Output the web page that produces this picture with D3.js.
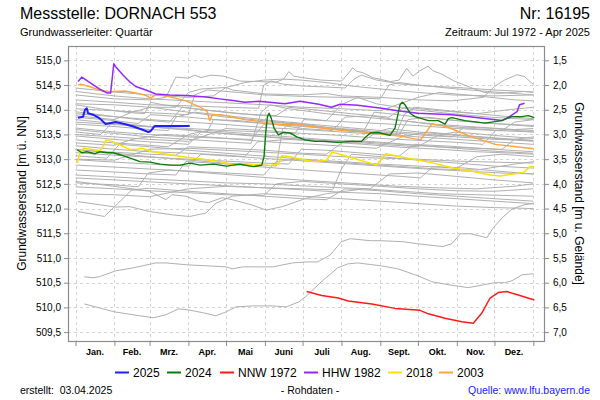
<!DOCTYPE html>
<html><head><meta charset="utf-8">
<script src="https://cdn.jsdelivr.net/npm/d3@7"></script>
<style>
body{margin:0;background:#fff;}
svg{display:block;font-family:"Liberation Sans",Arial,sans-serif;}
</style></head>
<body><svg id="c" width="600" height="400"></svg>
<script>
// ---------- data ----------
const monthLabels = ["Jan.","Feb.","Mrz.","Apr.","Mai","Juni","Juli","Aug.","Sept.","Okt.","Nov.","Dez."];
const monthStarts = [0,31,59,90,120,151,181,212,243,273,304,334,365];
const leftTicks = [509.5,510.0,510.5,511.0,511.5,512.0,512.5,513.0,513.5,514.0,514.5,515.0];
const rightTicks = [1.5,2.0,2.5,3.0,3.5,4.0,4.5,5.0,5.5,6.0,6.5,7.0];
const groundLevel = 516.5;

const s2025 = [[2,513.84],[6,513.86],[7.5,514.00],[9,514.03],[10,513.93],[14,513.90],[19,513.83],[24,513.71],[28,513.73],[32,513.75],[39,513.71],[46,513.66],[54,513.59],[58,513.55],[60,513.57],[63,513.67],[70,513.67],[80,513.67],[91,513.67]];
const s2024 = [[1.4,513.19],[5,513.13],[9,513.15],[15.5,513.11],[19.5,513.15],[25,513.13],[30,513.13],[35.5,513.09],[43.5,513.02],[51.4,512.95],[59.4,512.94],[67.4,512.90],[75.3,512.88],[83.3,512.88],[91.3,512.92],[99.3,512.88],[110,512.90],[120.5,512.86],[131,512.90],[141.8,512.85],[148.5,512.88],[150.3,513.05],[151.6,513.53],[153,513.86],[154.3,513.93],[156,513.83],[158.3,513.63],[161.7,513.49],[165.7,513.54],[171,513.53],[176.4,513.45],[183,513.39],[191,513.36],[199,513.36],[209.5,513.34],[220,513.36],[228,513.36],[231,513.44],[235,513.53],[241.4,513.54],[250.7,513.48],[254.7,513.63],[258.7,514.10],[260.5,514.15],[262.7,514.10],[266.7,513.93],[270.7,513.86],[276,513.82],[281.3,513.78],[289.2,513.78],[294.6,513.71],[297.2,513.82],[300,513.84],[310.5,513.78],[326.5,513.73],[339.8,513.78],[347.8,513.86],[355.7,513.86],[361,513.88],[365.8,513.84]];
const nnw1972 = [[184.3,510.32],[196.3,510.24],[209.5,510.19],[217.5,510.13],[236.2,510.07],[254.7,509.98],[274.7,509.94],[281.3,509.87],[294.6,509.78],[308,509.71],[317.1,509.68],[323.8,509.88],[330.5,510.19],[337,510.30],[343.8,510.32],[353,510.25],[365.8,510.15]];
const hhw1982 = [[2,514.57],[5,514.66],[19,514.42],[25,514.34],[28,514.34],[30.5,514.93],[32,514.87],[37.6,514.71],[43,514.57],[48,514.47],[56,514.40],[64,514.32],[75,514.30],[88,514.29],[104,514.26],[115,514.22],[124,514.19],[135,514.15],[146,514.17],[167,514.12],[179,514.17],[194,514.11],[204,514.05],[211,514.11],[225,514.09],[244,514.03],[257,513.98],[273,513.93],[300,513.90],[321,513.84],[340,513.78],[346,513.86],[352,513.96],[354,514.10],[358,514.13]];
const s2018 = [[1.4,512.92],[3.6,513.12],[6.2,513.22],[11.6,513.20],[19.5,513.17],[22,513.26],[24.3,513.39],[28.9,513.36],[38,513.26],[43.5,513.19],[48.8,513.20],[52.8,513.22],[62,513.15],[75.3,513.09],[88.7,513.04],[102,513.00],[115.2,512.95],[125.8,512.88],[136.5,512.90],[147,512.88],[155,512.87],[161.7,512.90],[164.4,513.07],[171,513.05],[181.6,512.99],[189.6,512.95],[200.3,512.98],[204.3,513.14],[208.2,513.12],[221.5,513.02],[234.8,512.92],[240,512.88],[245.4,513.05],[247.5,513.11],[258.7,513.05],[272,512.99],[285.3,512.92],[301.2,512.82],[317.2,512.75],[330.5,512.68],[338.4,512.66],[349,512.70],[357,512.73],[362.4,512.85],[365,512.85]];
const s2003 = [[2,514.50],[4,514.52],[11,514.47],[19,514.40],[27,514.36],[32,514.37],[39,514.38],[48,514.34],[56,514.29],[60,514.23],[63,514.29],[67,514.30],[77,514.25],[88,514.18],[99,514.06],[105,513.96],[107,513.78],[109,513.90],[115,513.90],[124,513.86],[135,513.80],[151,513.75],[159,513.71],[180,513.69],[188,513.66],[202,513.61],[217,513.57],[231,513.55],[251,513.49],[260,513.46],[273,513.40],[275.5,513.40],[284,513.71],[296,513.66],[305,513.56],[318.5,513.43],[334.5,513.30],[348,513.26],[365,513.21]];

// other years (grey)
const grayLines = [
 [[0,514.30],[31,514.22],[59,514.20],[72,514.25],[80,514.66],[90,514.64],[95,514.70],[100,514.65],[108,514.70],[118,514.68],[131,514.58],[145,514.57],[160,514.56],[166,514.62],[170,514.77],[174,514.68],[181,514.65],[196,514.60],[212,514.58],[217,514.72],[221,514.85],[224,514.78],[229,514.75],[237,514.65],[251,514.57],[258,514.60],[264,514.84],[269,514.68],[274,514.78],[281,514.88],[285,514.79],[292,514.72],[302,514.58],[315,514.45],[326,514.35],[337,514.33],[348,514.35],[358,514.37],[365,514.35]],
 [[0,514.44],[31,514.36],[59,514.30],[90,514.25],[110,514.28],[120,514.45],[125,514.40],[151,514.32],[181,514.30],[200,514.33],[212,514.28],[243,514.25],[273,514.20],[300,514.18],[325,514.25],[334,514.47],[342,514.60],[352,514.71],[358,514.67],[365,514.51]],
 [[0,514.12],[31,514.10],[59,514.05],[80,514.05],[90,514.35],[100,514.42],[120,514.45],[135,514.55],[150,514.60],[165,514.62],[180,514.60],[200,514.55],[220,514.48],[243,514.42],[273,514.35],[300,514.30],[334,514.28],[365,514.30]],
 [[0,514.20],[31,514.15],[59,514.10],[90,514.08],[120,514.05],[146,514.03],[150,514.50],[156,514.58],[165,514.52],[181,514.48],[200,514.46],[215,514.44],[222,514.62],[228,514.70],[240,514.60],[260,514.52],[280,514.48],[304,514.45],[334,514.40],[365,514.36]],
 [[0,514.02],[31,513.98],[59,513.94],[90,513.90],[95,514.30],[105,514.40],[130,514.35],[151,514.30],[181,514.27],[212,514.25],[243,514.22],[250,514.50],[258,514.55],[273,514.50],[304,514.42],[334,514.36],[365,514.30]],
 [[0,514.37],[31,514.28],[59,514.22],[90,514.18],[120,514.14],[151,514.10],[181,514.05],[212,514.02],[243,513.98],[273,514.25],[290,514.35],[320,514.28],[350,514.20],[365,514.18]],
 [[0,514.10],[20,514.02],[40,513.95],[55,513.92],[60,514.15],[70,514.10],[100,514.00],[130,513.92],[160,513.88],[170,514.05],[190,514.00],[220,513.92],[250,513.85],[262,514.05],[290,513.98],[320,513.92],[345,514.00],[365,514.05]],
 [[0,513.96],[25,513.88],[50,513.80],[75,513.75],[85,514.05],[110,513.98],[140,513.90],[170,513.85],[200,513.78],[212,514.10],[225,514.25],[240,514.12],[270,514.00],[300,513.92],[330,513.85],[365,513.80]],
 [[0,513.88],[31,513.80],[45,513.95],[60,514.05],[90,513.95],[120,513.85],[150,513.78],[181,513.70],[200,513.62],[230,513.55],[258,513.50],[265,513.80],[280,513.85],[304,513.78],[334,513.72],[365,513.66]],
 [[0,513.80],[31,513.72],[59,513.65],[90,513.60],[105,513.55],[110,513.80],[130,513.78],[160,513.70],[181,513.62],[205,513.58],[215,513.85],[235,513.88],[255,513.80],[285,513.70],[315,513.62],[340,513.58],[350,513.75],[365,513.80]],
 [[0,513.71],[31,513.66],[59,513.60],[74,513.58],[80,513.85],[95,513.95],[120,513.88],[150,513.80],[181,513.72],[212,513.65],[243,513.58],[273,513.52],[304,513.45],[334,513.40],[365,513.38]],
 [[0,513.63],[31,513.55],[59,513.50],[90,513.45],[120,513.42],[140,513.40],[150,513.70],[160,513.75],[181,513.68],[212,513.62],[243,513.55],[280,513.48],[300,513.45],[310,513.65],[334,513.62],[365,513.55]],
 [[0,513.55],[20,513.50],[30,513.75],[45,513.70],[74,513.62],[105,513.55],[135,513.48],[166,513.42],[196,513.38],[227,513.32],[240,513.55],[250,513.62],[273,513.55],[304,513.48],[334,513.42],[365,513.36]],
 [[0,513.47],[31,513.40],[59,513.35],[90,513.30],[100,513.55],[120,513.52],[151,513.46],[181,513.40],[212,513.36],[243,513.30],[273,513.25],[290,513.50],[304,513.55],[334,513.48],[365,513.42]],
 [[0,513.39],[31,513.33],[59,513.28],[74,513.25],[90,513.50],[105,513.58],[135,513.52],[166,513.46],[196,513.40],[227,513.35],[258,513.30],[288,513.25],[319,513.22],[340,513.20],[350,513.40],[365,513.45]],
 [[0,513.33],[31,513.28],[45,513.40],[70,513.50],[100,513.46],[130,513.40],[160,513.34],[190,513.30],[215,513.26],[240,513.22],[260,513.45],[280,513.55],[310,513.48],[340,513.42],[365,513.38]],
 [[0,513.27],[31,513.20],[59,513.15],[90,513.12],[120,513.08],[135,513.05],[145,513.35],[170,513.40],[200,513.35],[230,513.30],[260,513.24],[290,513.20],[320,513.15],[350,513.12],[365,513.10]],
 [[0,513.19],[31,513.14],[59,513.10],[80,513.08],[90,513.25],[120,513.22],[151,513.18],[181,513.12],[200,513.10],[215,513.38],[240,513.35],[273,513.28],[304,513.22],[334,513.16],[365,513.12]],
 [[0,513.13],[31,513.08],[59,513.04],[90,513.00],[120,512.96],[151,512.92],[170,512.90],[180,513.20],[200,513.18],[230,513.12],[258,513.06],[270,513.30],[300,513.26],[334,513.20],[365,513.15]],
 [[0,513.07],[25,513.02],[35,513.30],[59,513.25],[90,513.18],[120,513.12],[151,513.06],[181,513.00],[212,512.95],[243,512.90],[273,512.86],[304,512.82],[320,513.05],[340,513.10],[365,513.05]],
 [[0,512.99],[31,512.94],[59,512.90],[90,512.86],[100,513.10],[130,513.05],[160,513.00],[190,512.95],[220,512.90],[250,512.85],[280,512.80],[310,512.76],[340,512.72],[365,512.70]],
 [[0,512.88],[31,512.84],[59,512.80],[90,512.76],[120,512.72],[150,512.68],[160,512.95],[175,513.00],[200,512.95],[230,512.90],[260,512.85],[290,512.80],[320,512.78],[350,512.90],[365,512.95]],
 [[0,512.78],[31,512.74],[59,512.70],[80,512.68],[88,512.95],[110,512.92],[140,512.86],[170,512.80],[200,512.75],[230,512.70],[260,512.65],[275,512.62],[285,512.85],[310,512.82],[340,512.75],[365,512.70]],
 [[0,512.68],[31,512.64],[59,512.60],[90,512.56],[120,512.52],[151,512.50],[181,512.46],[212,512.42],[235,512.40],[250,512.70],[273,512.72],[304,512.65],[334,512.58],[365,512.52]],
 [[0,512.52],[31,512.48],[50,512.44],[58,512.72],[75,512.78],[105,512.72],[135,512.66],[166,512.60],[196,512.55],[227,512.50],[258,512.45],[288,512.42],[319,512.40],[349,512.45],[365,512.50]],
 [[0,512.44],[31,512.40],[59,512.36],[90,512.32],[120,512.28],[150,512.26],[160,512.50],[181,512.55],[212,512.50],[243,512.45],[273,512.40],[304,512.36],[334,512.35],[365,512.40]],
 [[2,512.14],[32,512.03],[43,512.04],[59,511.94],[78,511.87],[91,511.84],[104,511.91],[112,512.11],[125,512.25],[150,512.30],[181,512.25],[212,512.20],[243,512.15],[273,512.10],[304,512.05],[334,512.02],[365,512.00]],
 [[2,511.94],[23,511.84],[45,512.38],[59,512.41],[90,512.35],[120,512.30],[151,512.25],[181,512.20],[200,512.18],[215,512.40],[243,512.36],[273,512.30],[304,512.25],[334,512.20],[365,512.15]],
 [[0,512.55],[31,512.45],[59,512.35],[72,512.18],[77,512.28],[88,512.25],[98,512.15],[106,512.12],[117,512.22],[125,512.18],[141,512.07],[152,511.97],[165,512.04],[184,512.21],[200,512.30],[230,512.40],[260,512.35],[290,512.30],[320,512.28],[365,512.25]],
 [[0,513.20],[31,513.12],[59,513.05],[90,512.98],[120,512.92],[151,512.88],[160,512.86],[165,513.60],[172,513.75],[190,513.68],[212,513.60],[243,513.52],[273,513.45],[304,513.40],[334,513.35],[365,513.30]],
 [[0,513.60],[31,513.52],[59,513.45],[90,513.40],[120,513.35],[140,513.32],[148,513.95],[155,514.10],[170,514.02],[200,513.92],[230,513.85],[260,513.78],[290,513.70],[320,513.65],[350,513.60],[365,513.58]],
 [[0,512.62],[31,512.58],[59,512.54],[90,512.50],[120,512.46],[151,512.42],[181,512.40],[205,512.38],[212,512.80],[220,513.10],[243,513.05],[273,512.98],[304,512.92],[334,512.86],[365,512.82]],
 [[0,513.92],[31,513.86],[59,513.80],[90,513.75],[120,513.70],[151,513.64],[181,513.60],[212,513.55],[243,513.50],[255,513.48],[262,513.90],[270,514.05],[290,514.00],[320,513.92],[350,513.85],[365,513.82]],
 [[0,512.30],[31,512.28],[59,512.24],[90,512.40],[120,512.45],[151,512.42],[181,512.38],[212,512.33],[243,512.30],[273,512.25],[304,512.20],[334,512.15],[365,512.10]],
 [[0,513.85],[31,513.78],[50,513.72],[60,513.90],[90,513.85],[120,513.78],[151,513.72],[181,513.66],[212,513.60],[230,513.58],[238,513.95],[250,513.92],[273,513.85],[304,513.78],[334,513.72],[365,513.68]],
 [[0,513.50],[31,513.45],[59,513.40],[90,513.36],[120,513.62],[151,513.58],[181,513.52],[212,513.48],[243,513.42],[273,513.38],[304,513.34],[325,513.30],[335,513.58],[365,513.62]],
 [[0,513.75],[31,513.70],[59,513.66],[90,513.62],[120,513.58],[151,513.55],[175,513.52],[182,513.80],[212,513.76],[243,513.72],[273,513.68],[304,513.62],[334,513.58],[365,513.55]],
 [[0,513.00],[31,512.98],[59,513.20],[90,513.22],[120,513.18],[151,513.14],[181,513.10],[212,513.05],[243,513.02],[273,513.00],[304,512.96],[334,512.94],[365,512.92]],
 [[7,510.07],[19,509.99],[31,509.91],[46,509.85],[62,509.79],[72,509.85],[82,509.97],[90,509.95],[102,509.89],[112,509.83],[120,509.91],[128,510.01],[141,510.03],[157,510.03],[168,510.01],[178,510.11],[184,510.23],[196,510.52],[209,510.80],[217,510.88],[225,510.90],[244,510.84],[257,510.78],[273,510.64],[284,510.52],[297,510.46],[313,510.40],[326,510.46],[334,510.50],[342,510.50],[348,510.54],[356,510.66],[365,510.68]],
 [[7,510.62],[14,510.60],[19,510.62],[32,510.74],[46,510.80],[64,510.90],[72,510.90],[90,510.86],[106,510.84],[120,510.82],[125,510.78],[133,510.82],[144,510.82],[157,510.82],[173,510.90],[184,510.92],[193,510.92],[203,511.06],[212,511.33],[219,511.39],[235,511.35],[243,511.35],[261,511.33],[272,511.29],[293,511.23],[300,511.29],[307,511.49],[315,511.49],[328,511.41],[333,511.61],[340,511.81],[348,511.99],[358,512.08],[365,512.10]]
];

const legendNames = ["2025","2024","NNW 1972","HHW 1982","2018","2003"];
const legendColors = ["#1f1fff","#0a7a0a","#ff1a1a","#9428ff","#ffe000","#ffa43c"];

// ---------- drawing ----------
const svg = d3.select("#c");
const fx0=68, fx1=544, fy0=46, fy1=341;
const x = d3.scaleLinear().domain([-6,373.5]).range([fx0,fx1]);
const y = d3.scaleLinear().domain([509.32,515.29]).range([fy1,fy0]);
const yR = d3.scaleLinear().domain([groundLevel-509.32, groundLevel-515.29]).range([fy1,fy0]);
const fmt = v => d3.format(".1f")(v).replace(".",",");

svg.append("rect").attr("width",600).attr("height",400).attr("fill","#fff");

// grid
const grid = svg.append("g").attr("stroke","#d4d4d4").attr("stroke-width",1).attr("stroke-dasharray","3,3");
leftTicks.forEach(t=>grid.append("line").attr("x1",fx0).attr("x2",fx1).attr("y1",Math.round(y(t))+0.5).attr("y2",Math.round(y(t))+0.5));
monthStarts.forEach(d=>grid.append("line").attr("y1",fy0).attr("y2",fy1).attr("x1",Math.round(x(d))+0.5).attr("x2",Math.round(x(d))+0.5));

const line = d3.line().x(d=>x(d[0])).y(d=>y(d[1]));
const plot = svg.append("g");
grayLines.forEach(s=>plot.append("path").attr("d",line(s)).attr("fill","none").attr("stroke","#b0b0b0").attr("stroke-width",1));

const colored = [
  {data:s2003,c:legendColors[5],w:1.4},
  {data:s2018,c:legendColors[4],w:1.5},
  {data:hhw1982,c:legendColors[3],w:1.5},
  {data:nnw1972,c:legendColors[2],w:1.5},
  {data:s2024,c:legendColors[1],w:1.4},
  {data:s2025,c:legendColors[0],w:2}
];
colored.forEach(o=>plot.append("path").attr("d",line(o.data)).attr("fill","none").attr("stroke",o.c).attr("stroke-width",o.w).attr("stroke-linejoin","round"));

// frame
svg.append("rect").attr("x",fx0+0.5).attr("y",fy0+0.5).attr("width",fx1-fx0).attr("height",fy1-fy0).attr("fill","none").attr("stroke","#8c8c8c").attr("stroke-width",1.2);

// axes
const ax = g=>{g.select(".domain").remove(); g.selectAll("line").attr("stroke","#8c8c8c"); g.selectAll("text").attr("fill","#000").attr("font-size","10px").attr("font-family","Liberation Sans, Arial, sans-serif");};
svg.append("g").attr("transform",`translate(${fx0},0)`).call(d3.axisLeft(y).tickValues(leftTicks).tickSize(4).tickPadding(3).tickFormat(fmt)).call(ax);
svg.append("g").attr("transform",`translate(${fx1+1},0)`).call(d3.axisRight(yR).tickValues(rightTicks).tickSize(4).tickPadding(4).tickFormat(fmt)).call(ax);
svg.append("g").attr("transform",`translate(0,${fy1+1})`).call(d3.axisBottom(x).tickValues(monthStarts).tickSize(4).tickFormat("")).call(ax);

// month labels
monthLabels.forEach((m,i)=>svg.append("text").attr("x",x((monthStarts[i]+monthStarts[i+1])/2)).attr("y",355)
  .attr("text-anchor","middle").attr("font-size","9px").attr("font-weight","bold").text(m));

// axis titles
svg.append("text").attr("transform",`translate(26,${(fy0+fy1)/2}) rotate(-90)`).attr("text-anchor","middle").attr("font-size","12px").text("Grundwasserstand [m ü. NN]");
svg.append("text").attr("transform",`translate(575,${(fy0+fy1)/2}) rotate(90)`).attr("text-anchor","middle").attr("font-size","12px").text("Grundwasserstand [m u. Gelände]");

// titles
svg.append("text").attr("x",20).attr("y",19).attr("font-size","16px").text("Messstelle: DORNACH 553");
svg.append("text").attr("x",590).attr("y",19).attr("text-anchor","end").attr("font-size","16px").text("Nr: 16195");
svg.append("text").attr("x",20).attr("y",36).attr("font-size","11px").text("Grundwasserleiter: Quartär");
svg.append("text").attr("x",590).attr("y",36).attr("text-anchor","end").attr("font-size","11px").text("Zeitraum: Jul 1972 - Apr 2025");

// legend
const legX = [115,167,220,304,388,439];
legendNames.forEach((n,i)=>{
  svg.append("line").attr("x1",legX[i]).attr("x2",legX[i]+14).attr("y1",372.5).attr("y2",372.5).attr("stroke",legendColors[i]).attr("stroke-width",2);
  svg.append("text").attr("x",legX[i]+18).attr("y",377).attr("font-size","12px").text(n);
});

// footer
svg.append("text").attr("x",20).attr("y",394).attr("font-size","10.5px").attr("xml:space","preserve").text("erstellt:  03.04.2025");
svg.append("text").attr("x",310).attr("y",394).attr("text-anchor","middle").attr("font-size","10.5px").text("- Rohdaten -");
svg.append("text").attr("x",590).attr("y",394).attr("text-anchor","end").attr("font-size","10.5px").attr("fill","#1a1aff").text("Quelle: www.lfu.bayern.de");
</script></body></html>
